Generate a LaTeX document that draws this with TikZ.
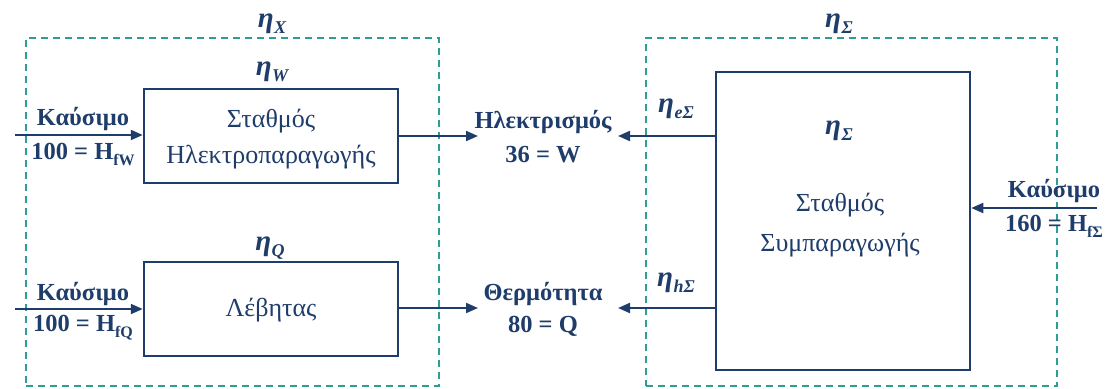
\documentclass[tikz,border=0pt]{standalone}
\usepackage{fontspec}
\setmainfont{Liberation Serif}
\usetikzlibrary{arrows.meta}
\definecolor{navy}{HTML}{1F3D6B}
\definecolor{tealdash}{HTML}{2E9E94}
\newcommand\etalab[1]{{\bfseries\itshape\fontsize{29}{29}\selectfont η\kern0.5pt\raisebox{-6pt}{\fontsize{18}{18}\selectfont #1}}}
\newcommand\subtxt[1]{\raisebox{-6pt}{\fontsize{16}{16}\selectfont #1}}
\begin{document}
\begin{tikzpicture}[x=1pt,y=-1pt,
  every node/.style={text=navy, inner sep=0pt},
  box/.style={draw=navy, line width=2.5pt, fill=white},
  group/.style={draw=tealdash, line width=1.6pt, dash pattern=on 7pt off 5pt},
  arr/.style={draw=navy, line width=2pt, -{Triangle[length=12pt,width=10pt]}},
  txt/.style={font=\fontsize{26}{26}\selectfont},
  btxt/.style={font=\fontsize{24.5}{24.5}\selectfont\bfseries},
  ]
\useasboundingbox (0,0) rectangle (1110,388);
% groups
\node[group, minimum width=413pt, minimum height=348pt] (gx) at (232.5,212) {};
\node[group, minimum width=411pt, minimum height=348pt] (gs) at (851.5,212) {};
\node (etaX) at (272,24) {\etalab{X}};
\node (etaSt) at (839,24) {\etalab{Σ}};
% boxes
\node[box, minimum width=254pt, minimum height=94pt] (bw) at (271,136) {};
\node[txt] (bwt1) at (271,121) {Σταθμός};
\node[txt] (bwt2) at (271,157) {Ηλεκτροπαραγωγής};
\node (etaW) at (272,72) {\etalab{W}};
\node[box, minimum width=254pt, minimum height=94pt] (bq) at (271,309) {};
\node[txt] (bqt) at (271,310) {Λέβητας};
\node (etaQ) at (270,248) {\etalab{Q}};
\node[box, minimum width=254pt, minimum height=298pt] (bs) at (843,221) {};
\node (etaSi) at (839,131) {\etalab{Σ}};
\node[txt] (bst1) at (840,205) {Σταθμός};
\node[txt] (bst2) at (840,245) {Συμπαραγωγής};
% inputs
\coordinate (inW) at (15,135);
\coordinate (inQ) at (15,309);
\coordinate (inS) at (1097,208);
\draw[arr] (inW) -- (inW -| bw.west);
\draw[arr] (inQ) -- (inQ -| bq.west);
\draw[arr] (inS) -- (inS -| bs.east);
\node[btxt] (fW1) at (83,119) {Καύσιμο};
\node[btxt] (fW2) at (83,154) {100 = H\subtxt{fW}};
\node[btxt] (fQ1) at (83,294) {Καύσιμο};
\node[btxt] (fQ2) at (83,328) {100 = H\subtxt{fQ}};
\node[btxt] (fS1) at (1054,191) {Καύσιμο};
\node[btxt] (fS2) at (1054,226) {160 = H\subtxt{fΣ}};
% outputs
\coordinate (oW) at (478,136);
\coordinate (oQ) at (478,308);
\coordinate (oSe) at (618,136);
\coordinate (oSh) at (618,308);
\draw[arr] (bw.east |- oW) -- (oW);
\draw[arr] (bq.east |- oQ) -- (oQ);
\draw[arr] (bs.west |- oSe) -- (oSe);
\draw[arr] (bs.west |- oSh) -- (oSh);
\node[btxt] (el1) at (543,122) {Ηλεκτρισμός};
\node[btxt] (el2) at (543,155) {36 = W};
\node[btxt] (th1) at (543,294) {Θερμότητα};
\node[btxt] (th2) at (543,326) {80 = Q};
\node (etaE) at (676,109) {\etalab{eΣ}};
\node (etaH) at (676,283) {\etalab{hΣ}};
\end{tikzpicture}
\end{document}
